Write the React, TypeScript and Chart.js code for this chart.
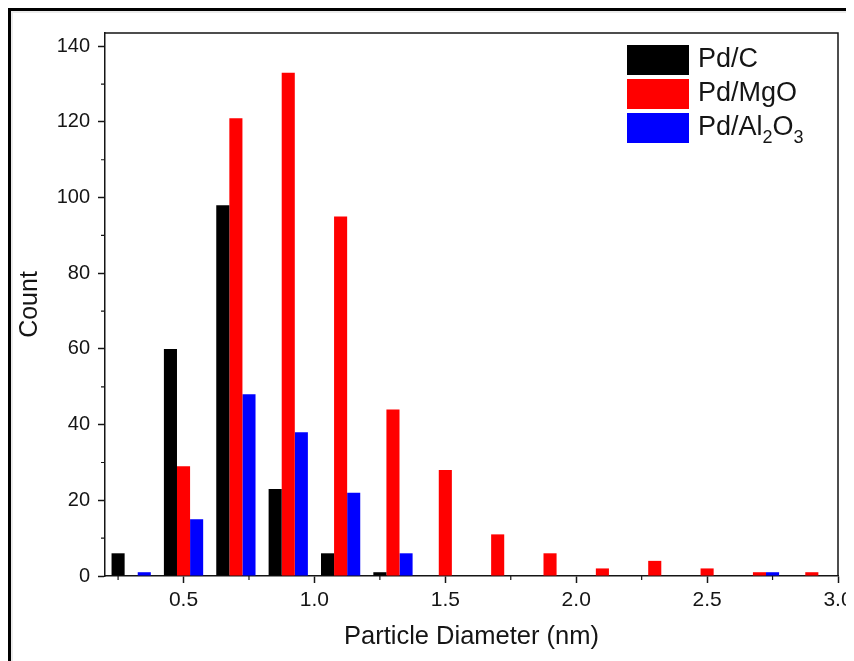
import React, { useEffect, useRef } from "react";
import { Chart, registerables } from "chart.js";

Chart.register(...registerables);

// ---- data ----
const binCenters = [0.3, 0.5, 0.7, 0.9, 1.1, 1.3, 1.5, 1.7, 1.9, 2.1, 2.3, 2.5, 2.7, 2.9];
const pdC = [6, 60, 98, 23, 6, 1, 0, 0, 0, 0, 0, 0, 0, 0];
const pdMgO = [0, 29, 121, 133, 95, 44, 28, 11, 6, 2, 4, 2, 1, 1];
const pdAl2O3 = [1, 15, 48, 38, 22, 6, 0, 0, 0, 0, 0, 0, 1, 0];

const seriesLabels = ["Pd/C", "Pd/MgO", "Pd/Al2O3"];
const seriesColors = ["#000000", "#ff0000", "#0000ff"];

const xMajorTicks = [0.5, 1.0, 1.5, 2.0, 2.5, 3.0];
const xMinorTicks = [0.25, 0.75, 1.25, 1.75, 2.25, 2.75];
const yMajorTicks = [0, 20, 40, 60, 80, 100, 120, 140];
const yMinorTicks = [10, 30, 50, 70, 90, 110, 130];

const FONT = '"Liberation Sans", Arial, Helvetica, sans-serif';
const INK = "#151515";

const framePlugin = {
  id: "frameAndMinor",
  afterDraw(chart: any) {
    const { ctx, chartArea, scales } = chart;
    const { left, right, top, bottom } = chartArea;
    ctx.save();
    ctx.strokeStyle = INK;
    ctx.lineWidth = 1.5;
    ctx.beginPath();
    ctx.moveTo(left, top);
    ctx.lineTo(right, top);
    ctx.lineTo(right, bottom);
    ctx.stroke();
    ctx.lineWidth = 1.2;
    ctx.beginPath();
    for (const v of xMinorTicks) {
      const px = scales.x.getPixelForValue(v);
      ctx.moveTo(px, bottom);
      ctx.lineTo(px, bottom + 4);
    }
    for (const v of yMinorTicks) {
      const py = scales.y.getPixelForValue(v);
      ctx.moveTo(left, py);
      ctx.lineTo(left - 4, py);
    }
    ctx.stroke();

    // legend
    const sx = chartArea.right - 211;
    const sw = 62;
    const sh = 30;
    const step = 34;
    const sy0 = chartArea.top + 12;
    ctx.textBaseline = "middle";
    ctx.textAlign = "left";
    chart.data.datasets.forEach((ds: any, i: number) => {
      const y0 = sy0 + i * step;
      ctx.fillStyle = ds.backgroundColor;
      ctx.fillRect(sx, y0, sw, sh);
      const ty = y0 + sh / 2;
      let tx = sx + sw + 9;
      ctx.fillStyle = INK;
      const big = `27px ${FONT}`;
      const small = `18px ${FONT}`;
      const label: string = ds.label;
      const parts = label.match(/(\d+|\D+)/g) || [label];
      parts.forEach((p: string, k: number) => {
        const isSub = /^\d+$/.test(p) && k > 0;
        ctx.font = isSub ? small : big;
        ctx.fillText(p, tx, isSub ? ty + 10 : ty);
        tx += ctx.measureText(p).width;
      });
    });
    ctx.restore();
  },
};

export default function App() {
  const ref = useRef<HTMLCanvasElement | null>(null);

  useEffect(() => {
    if (!ref.current) return;
    const series = [pdC, pdMgO, pdAl2O3];
    const chart = new Chart(ref.current, {
      type: "bar",
      data: {
        datasets: series.map((vals, i) => ({
          label: seriesLabels[i],
          data: binCenters.map((x, j) => ({ x, y: vals[j] })),
          backgroundColor: seriesColors[i],
          borderWidth: 0,
          categoryPercentage: 0.75,
          barPercentage: 1.0,
        })),
      },
      options: {
        responsive: false,
        animation: false,
        layout: { padding: { top: 17, right: 0, left: 0, bottom: 0 } },
        plugins: { legend: { display: false }, tooltip: { enabled: false } },
        scales: {
          x: {
            type: "linear",
            offset: false,
            min: 0.2,
            max: 3.0,
            afterBuildTicks: (s: any) => {
              s.ticks = xMajorTicks.map((v) => ({ value: v }));
            },
            afterFit: (s: any) => {
              s.height = 85;
              s.paddingRight = 16;
            },
            grid: {
              offset: false,
              drawOnChartArea: false,
              drawTicks: true,
              tickLength: 7,
              tickWidth: 1.5,
              tickColor: INK,
            },
            border: { display: true, color: INK, width: 1.5 },
            ticks: {
              color: INK,
              font: { size: 21, family: FONT },
              padding: 5,
              maxRotation: 0,
              autoSkip: false,
              callback: (v: any) => Number(v).toFixed(1),
            },
            title: {
              display: true,
              text: "Particle Diameter (nm)",
              color: INK,
              font: { size: 25.5, family: FONT },
              padding: { top: 0, bottom: 9 },
            },
          },
          y: {
            type: "linear",
            min: 0,
            max: 143.5,
            afterBuildTicks: (s: any) => {
              s.ticks = yMajorTicks.map((v) => ({ value: v }));
            },
            afterFit: (s: any) => {
              s.width = 92;
            },
            grid: {
              drawOnChartArea: false,
              drawTicks: true,
              tickLength: 7,
              tickWidth: 1.5,
              tickColor: INK,
            },
            border: { display: true, color: INK, width: 1.5 },
            ticks: {
              color: INK,
              font: { size: 20, family: FONT },
              padding: 8,
              autoSkip: false,
            },
            title: {
              display: true,
              text: "Count",
              color: INK,
              font: { size: 25, family: FONT },
              padding: { top: 2, bottom: 0 },
            },
          },
        },
      },
      plugins: [framePlugin],
    });
    return () => chart.destroy();
  }, []);

  return (
    <div
      style={{
        width: 846,
        height: 653,
        boxSizing: "border-box",
        borderTop: "3px solid #000",
        borderLeft: "3px solid #000",
        overflow: "hidden",
        background: "#fff",
      }}
    >
      <div
        style={{
          width: 843,
          height: 650,
          boxSizing: "border-box",
          borderTop: "2px solid #ebebeb",
          borderLeft: "2px solid #ebebeb",
        }}
      >
        <canvas ref={ref} width={841} height={648} style={{ display: "block" }} />
      </div>
    </div>
  );
}
